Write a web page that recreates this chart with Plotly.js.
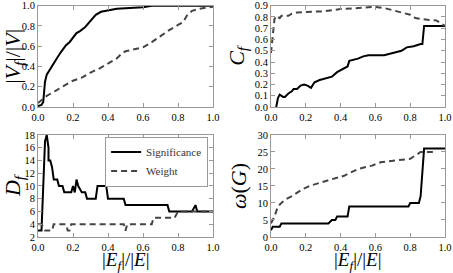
<!DOCTYPE html>
<html><head><meta charset="utf-8">
<script src="https://cdn.plot.ly/plotly-3.0.1.min.js"></script>
<style>html,body{margin:0;padding:0;background:#fff}#c{width:453px;height:273px}</style>
</head><body><div id="c"></div>
<script>
// Panel 1: |V_f|/|V|
const v_sig_x = [0,0.02,0.03,0.035,0.04,0.05,0.07,0.1,0.13,0.16,0.18,0.2,0.22,0.24,0.27,0.3,0.33,0.36,0.4,0.45,0.5,0.55,0.6,0.65,1.0];
const v_sig_y = [0.01,0.02,0.05,0.15,0.25,0.32,0.38,0.46,0.54,0.61,0.64,0.69,0.73,0.75,0.79,0.85,0.91,0.94,0.95,0.97,0.975,0.98,0.985,1.0,1.0];
const v_wt_x = [0,0.02,0.05,0.1,0.15,0.2,0.25,0.3,0.35,0.4,0.45,0.48,0.5,0.55,0.6,0.65,0.7,0.75,0.8,0.83,0.85,0.88,0.92,0.95,1.0];
const v_wt_y = [0.04,0.07,0.11,0.16,0.21,0.26,0.29,0.34,0.38,0.43,0.48,0.53,0.55,0.57,0.59,0.64,0.70,0.76,0.81,0.84,0.90,0.95,0.97,0.98,0.99];
// Panel 2: C_f
const c_sig_x = [0.03,0.04,0.05,0.07,0.08,0.1,0.12,0.13,0.15,0.17,0.19,0.21,0.23,0.25,0.28,0.3,0.35,0.38,0.42,0.44,0.45,0.48,0.5,0.53,0.56,0.6,0.65,0.7,0.75,0.78,0.82,0.86,0.87,0.88,1.0];
const c_sig_y = [0.0,0.08,0.11,0.09,0.09,0.12,0.14,0.16,0.16,0.19,0.20,0.19,0.17,0.22,0.24,0.25,0.27,0.31,0.34,0.36,0.41,0.42,0.43,0.45,0.46,0.46,0.46,0.48,0.5,0.53,0.54,0.56,0.56,0.72,0.72];
const c_wt_x = [0,0.01,0.02,0.03,0.05,0.06,0.1,0.12,0.15,0.2,0.3,0.4,0.5,0.55,0.6,0.65,0.7,0.75,0.8,0.83,0.87,0.9,0.95,1.0];
const c_wt_y = [0.48,0.65,0.78,0.81,0.79,0.81,0.81,0.83,0.84,0.845,0.85,0.87,0.88,0.89,0.89,0.88,0.86,0.84,0.82,0.79,0.78,0.775,0.77,0.72];
// Panel 3: D_f
const d_sig_x = [0,0.02,0.04,0.05,0.06,0.06,0.07,0.08,0.09,0.11,0.12,0.14,0.15,0.19,0.2,0.21,0.22,0.23,0.25,0.27,0.28,0.33,0.34,0.39,0.4,0.49,0.5,0.74,0.75,0.88,0.9,0.91,1.0];
const d_sig_y = [3,3,17,18,16,14,14,13,11,11,10,10,9,9,10,9,11,10,9,9,8,8,10,10,8,8,7,7,6,6,7,6,6];
const d_wt_x = [0,0.02,0.04,0.08,0.09,0.16,0.17,0.18,0.19,0.49,0.5,0.51,0.65,0.66,0.78,0.8,1.0];
const d_wt_y = [4,4,3,3,4,4,3,3,4,4,3,4,4,5,5,6,6];
// Panel 4: omega(G)
const w_sig_x = [0,0.01,0.05,0.06,0.33,0.35,0.37,0.38,0.44,0.45,0.79,0.8,0.85,0.86,0.88,1.0];
const w_sig_y = [2,3,3,4,4,5,5,6,6,9,9,10,10,12,26,26];
const w_wt_x = [0,0.02,0.04,0.06,0.08,0.12,0.15,0.18,0.22,0.28,0.35,0.42,0.46,0.5,0.58,0.63,0.8,0.83,0.86,0.95];
const w_wt_y = [4,6,9,10,11,12,13,14,15,16,17,18,19,20,21,22,23,24,25,25];

const xTitle = '|<i>E<sub>f</sub></i>|/|<i>E</i>|';

const serif = "Liberation Serif, Times New Roman, serif";
const solid = {color:'#000', width:2, dash:'solid'};
const dashed = {color:'#444', width:2, dash:'6px,4px'};

const traces = [
  {x:v_sig_x,y:v_sig_y,xaxis:'x',yaxis:'y',mode:'lines',line:solid,showlegend:false},
  {x:v_wt_x,y:v_wt_y,xaxis:'x',yaxis:'y',mode:'lines',line:dashed,showlegend:false},
  {x:c_sig_x,y:c_sig_y,xaxis:'x2',yaxis:'y2',mode:'lines',line:solid,showlegend:false},
  {x:c_wt_x,y:c_wt_y,xaxis:'x2',yaxis:'y2',mode:'lines',line:dashed,showlegend:false},
  {x:d_sig_x,y:d_sig_y,xaxis:'x3',yaxis:'y3',mode:'lines',line:solid,name:'Significance'},
  {x:d_wt_x,y:d_wt_y,xaxis:'x3',yaxis:'y3',mode:'lines',line:dashed,name:'Weight'},
  {x:w_sig_x,y:w_sig_y,xaxis:'x4',yaxis:'y4',mode:'lines',line:solid,showlegend:false},
  {x:w_wt_x,y:w_wt_y,xaxis:'x4',yaxis:'y4',mode:'lines',line:dashed,showlegend:false}
];

function ax(extra){
  return Object.assign({
    showgrid:false, zeroline:false, showline:true, linecolor:'#999', linewidth:1,
    mirror:'allticks', ticks:'inside', ticklen:4, tickcolor:'#999', ticklabeloverflow:'allow',
    tickfont:{family:serif,size:10.5,color:'#000'}, fixedrange:true
  }, extra);
}
const yfont = {family:serif,size:22,color:'#000'};
const xticks = {range:[0,1],tickvals:[0,0.2,0.4,0.6,0.8,1.0],ticktext:['0.0','0.2','0.4','0.6','0.8','1.0']};

const layout = {
  width:453, height:273, margin:{l:0,r:0,t:0,b:0},
  paper_bgcolor:'#fff', plot_bgcolor:'#fff',
  font:{family:serif},
  xaxis: ax(Object.assign({domain:[0.0839,0.4702],anchor:'y'},xticks)),
  yaxis: ax({domain:[0.608,0.979],anchor:'x',range:[0,1],tickvals:[0,0.2,0.4,0.6,0.8,1.0],ticktext:['0.0','0.2','0.4','0.6','0.8','1.0'],
    title:{text:'|<i>V<sub>f</sub></i>|/|<i>V</i>|',font:yfont,standoff:4}}),
  xaxis2: ax(Object.assign({domain:[0.5982,0.9823],anchor:'y2'},xticks)),
  yaxis2: ax({domain:[0.608,0.979],anchor:'x2',range:[0,0.9],tickvals:[0,0.1,0.2,0.3,0.4,0.5,0.6,0.7,0.8,0.9],ticktext:['0.0','0.1','0.2','0.3','0.4','0.5','0.6','0.7','0.8','0.9'],
    title:{text:'<i>C<sub>f</sub></i>',font:yfont,standoff:4}}),
  xaxis3: ax(Object.assign({domain:[0.0839,0.4702],anchor:'y3'},xticks)),
  yaxis3: ax({domain:[0.1319,0.5055],anchor:'x3',range:[2,18],tickvals:[2,4,6,8,10,12,14,16,18],
    title:{text:'<i>D<sub>f</sub></i>',font:yfont,standoff:4}}),
  xaxis4: ax(Object.assign({domain:[0.5982,0.9823],anchor:'y4'},xticks)),
  yaxis4: ax({domain:[0.1319,0.5055],anchor:'x4',range:[0,30],tickvals:[0,5,10,15,20,25,30],
    title:{text:'<i>ω</i>(<i>G</i>)',font:yfont,standoff:4}}),
  annotations:[
    {xref:'x3 domain',yref:'paper',x:0.5,y:0.043,xanchor:'center',yanchor:'middle',showarrow:false,text:xTitle,font:{family:serif,size:19,color:'#000'}},
    {xref:'x4 domain',yref:'paper',x:0.5,y:0.043,xanchor:'center',yanchor:'middle',showarrow:false,text:xTitle,font:{family:serif,size:19,color:'#000'}}
  ],
  showlegend:true,
  legend:{x:0.232,y:0.5,xanchor:'left',yanchor:'top',bgcolor:'#fff',bordercolor:'#999',borderwidth:1,
    font:{family:serif,size:11,color:'#333'},tracegroupgap:0,itemwidth:30}
};
Plotly.newPlot('c',traces,layout,{staticPlot:true,displayModeBar:false});
</script></body></html>
